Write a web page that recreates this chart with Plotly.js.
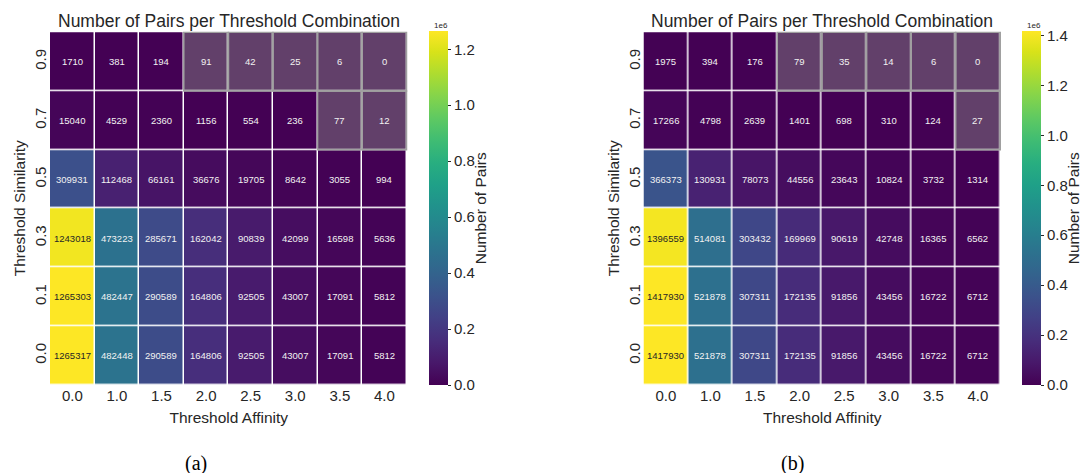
<!DOCTYPE html>
<html>
<head>
<meta charset="utf-8">
<script src="https://cdn.plot.ly/plotly-3.0.1.min.js"></script>
<style>html,body{margin:0;padding:0;background:#fff;}#chart{width:1084px;height:473px;}</style>
</head>
<body>
<div id="chart"></div>
<script>
// Categories
const affinity = ['0.0','1.0','1.5','2.0','2.5','3.0','3.5','4.0'];
const similarity = ['0.0','0.1','0.3','0.5','0.7','0.9']; // bottom to top

// Panel (a) values, rows listed bottom (0.0) to top (0.9)
const pairsA_s00 = [1265317, 482448, 290589, 164806, 92505, 43007, 17091, 5812];
const pairsA_s01 = [1265303, 482447, 290589, 164806, 92505, 43007, 17091, 5812];
const pairsA_s03 = [1243018, 473223, 285671, 162042, 90839, 42099, 16598, 5636];
const pairsA_s05 = [309931, 112468, 66161, 36676, 19705, 8642, 3055, 994];
const pairsA_s07 = [15040, 4529, 2360, 1156, 554, 236, 77, 12];
const pairsA_s09 = [1710, 381, 194, 91, 42, 25, 6, 0];

// Panel (b) values
const pairsB_s00 = [1417930, 521878, 307311, 172135, 91856, 43456, 16722, 6712];
const pairsB_s01 = [1417930, 521878, 307311, 172135, 91856, 43456, 16722, 6712];
const pairsB_s03 = [1396559, 514081, 303432, 169969, 90619, 42748, 16365, 6562];
const pairsB_s05 = [366373, 130931, 78073, 44556, 23643, 10824, 3732, 1314];
const pairsB_s07 = [17266, 4798, 2639, 1401, 698, 310, 124, 27];
const pairsB_s09 = [1975, 394, 176, 79, 35, 14, 6, 0];

const cbTickVals = [0, 200000, 400000, 600000, 800000, 1000000, 1200000, 1400000];
const cbTickText = ['0.0','0.2','0.4','0.6','0.8','1.0','1.2','1.4'];
const maskBelow = 100;

const zA = [pairsA_s00, pairsA_s01, pairsA_s03, pairsA_s05, pairsA_s07, pairsA_s09];
const zB = [pairsB_s00, pairsB_s01, pairsB_s03, pairsB_s05, pairsB_s07, pairsB_s09];

const W = 1084, H = 473;
const TXT = '#262626';
const FONT = 'Liberation Sans, Arial, sans-serif';

const panels = [
  {z: zA, xa: 'x', ya: 'y', dom: [50/W, 407.5/W], cbx: 429, tag: '(a)', tagx: 196},
  {z: zB, xa: 'x2', ya: 'y2', dom: [643.5/W, 1001/W], cbx: 1022, tag: '(b)', tagx: 792}
];
const CBW = 19;
const ydom = [1 - 385/H, 1 - 31.5/H];

const traces = [];
const annotations = [];
const shapes = [];

panels.forEach((p, pi) => {
  const zmax = Math.max(...p.z.map(r => Math.max(...r)));
  traces.push({
    type: 'heatmap', x: affinity, y: similarity, z: p.z,
    xaxis: p.xa, yaxis: p.ya,
    colorscale: 'Viridis', zmin: 0, zmax: zmax,
    xgap: 1.5, ygap: 1.5,
    hoverinfo: 'skip',
    colorbar: {
      x: p.cbx / W, xanchor: 'left', y: ydom[0], yanchor: 'bottom',
      len: ydom[1] - ydom[0], lenmode: 'fraction', thickness: CBW,
      xpad: 0, ypad: 0,
      outlinewidth: 0, ticks: 'outside', ticklen: 3.5, tickcolor: TXT,
      tickvals: cbTickVals, ticktext: cbTickText,
      tickfont: {family: FONT, size: 15, color: TXT}
    }
  });
  // mask overlay for small values
  const mz = p.z.map(r => r.map(v => v < maskBelow ? 1 : null));
  traces.push({
    type: 'heatmap', x: affinity, y: similarity, z: mz,
    xaxis: p.xa, yaxis: p.ya, showscale: false,
    colorscale: [[0, 'rgba(128,128,128,0.5)'], [1, 'rgba(128,128,128,0.5)']],
    hoverinfo: 'skip'
  });
  p.z.forEach((row, ri) => {
    row.forEach((v, ci) => {
      annotations.push({
        x: ci, y: ri, xref: p.xa, yref: p.ya, xanchor: 'center', yanchor: 'middle',
        text: String(v), showarrow: false,
        font: {family: FONT, size: 9.5, color: v / zmax > 0.8 ? TXT : '#f2f2f2'}
      });
      if (v < maskBelow) {
        shapes.push({
          type: 'rect', xref: p.xa, yref: p.ya,
          x0: ci - 0.5, x1: ci + 0.5, y0: ri - 0.5, y1: ri + 0.5,
          line: {color: '#a0a0a0', width: 1.5}, fillcolor: 'rgba(0,0,0,0)'
        });
      }
    });
  });
  // colorbar multiplier and title
  annotations.push({
    x: (p.cbx + CBW / 2 + 2) / W, y: 1 - 26/H, xref: 'paper', yref: 'paper', xanchor: 'center', yanchor: 'middle',
    text: '1e6', showarrow: false,
    font: {family: FONT, size: 8, color: TXT}
  });
  annotations.push({
    x: (p.cbx + CBW + 32) / W, y: (ydom[0] + ydom[1]) / 2, xref: 'paper', yref: 'paper',
    xanchor: 'center', yanchor: 'middle', textangle: -90,
    text: 'Number of Pairs', showarrow: false,
    font: {family: FONT, size: 15.5, color: TXT}
  });
  annotations.push({
    x: (p.dom[0] + p.dom[1]) / 2, y: 1 - 21/H, xref: 'paper', yref: 'paper', xanchor: 'center', yanchor: 'middle',
    text: 'Number of Pairs per Threshold Combination', showarrow: false,
    font: {family: FONT, size: 17.5, color: TXT}
  });
  annotations.push({
    x: p.tagx / W, y: 1 - 463/H, xref: 'paper', yref: 'paper', xanchor: 'center', yanchor: 'middle',
    text: p.tag, showarrow: false,
    font: {family: 'Liberation Serif, DejaVu Serif, serif', size: 20, color: '#000'}
  });
});

function xax(dom, anchor) {
  return {
    domain: dom, anchor: anchor, type: 'category', showgrid: false, zeroline: false,
    ticks: '', showline: false, tickfont: {family: FONT, size: 15, color: TXT},
    title: {text: 'Threshold Affinity', font: {family: FONT, size: 15.5, color: TXT}, standoff: 9},
    fixedrange: true
  };
}
function yax(anchor) {
  return {
    domain: ydom, anchor: anchor, type: 'category', showgrid: false, zeroline: false,
    ticks: '', showline: false, tickangle: -90, tickfont: {family: FONT, size: 15, color: TXT},
    title: {text: 'Threshold Similarity', font: {family: FONT, size: 15.5, color: TXT}, standoff: 2},
    fixedrange: true
  };
}

const layout = {
  width: W, height: H, margin: {l: 0, r: 0, t: 0, b: 0},
  paper_bgcolor: '#fff', plot_bgcolor: '#fff', showlegend: false,
  xaxis: xax(panels[0].dom, 'y'), yaxis: yax('x'),
  xaxis2: xax(panels[1].dom, 'y2'), yaxis2: yax('x2'),
  annotations: annotations, shapes: shapes
};

Plotly.newPlot('chart', traces, layout, {staticPlot: true, displayModeBar: false});
</script>
</body>
</html>
